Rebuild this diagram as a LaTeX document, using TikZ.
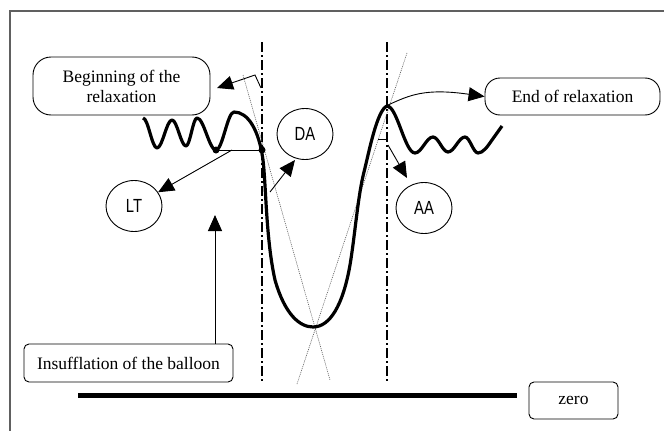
\documentclass[tikz,border=0pt]{standalone}
\usepackage{fontspec}
\setmainfont{Liberation Serif}
\newfontfamily\narrowsans[FakeStretch=0.78]{Liberation Sans}
\usetikzlibrary{arrows.meta,shapes.geometric}
\begin{document}
\begin{tikzpicture}[x=1pt,y=-1pt,
  box/.style={draw, line width=0.9pt, align=center, inner sep=0pt,
    font=\fontsize{17.5}{20}\selectfont},
  oval/.style={draw, ellipse, line width=0.9pt, inner sep=0pt,
    minimum width=56pt, minimum height=51pt, font=\narrowsans\fontsize{19}{21}\selectfont},
  arr/.style={line width=0.9pt, -{Triangle[length=16pt,width=14pt]}},
  thin/.style={line width=0.9pt},
  curve/.style={line width=3.2pt, line join=round},
  guide/.style={line width=2pt, dash pattern=on 10pt off 3pt on 2pt off 3pt},
  dotline/.style={line width=0.6pt, gray!70!black, dash pattern=on 1pt off 1pt},
  dotmark/.style={circle, fill=black, inner sep=0pt, minimum size=7pt}]
\useasboundingbox (0,0) rectangle (664,431);
% frame
\draw[line width=2pt, gray!75!black] (10,431) -- (10,11) -- (664,11);
% boxes
\node[box, rounded corners=18pt, minimum width=177pt, minimum height=58pt] (begin) at (121.5,86) {Beginning of the\\relaxation};
\node[box, rounded corners=15pt, minimum width=175pt, minimum height=37pt] (endr) at (572.5,96.5) {End of relaxation};
\node[box, rounded corners=5pt, minimum width=209pt, minimum height=38pt] (insuf) at (128.5,363) {Insufflation of the balloon};
\node[box, rounded corners=5pt, minimum width=89pt, minimum height=37pt] (zero) at (573.5,400.5) {zero};
% ovals
\node[oval] (lt) at (134,206) {LT};
\node[oval] (da) at (305,134) {DA};
\node[oval] (aa) at (424,208) {AA};
% guide lines
\coordinate (g1t) at (262,42); \coordinate (g1b) at (262,382);
\coordinate (g2t) at (387,42); \coordinate (g2b) at (387,382);
\draw[guide] (g1t) -- (g1b);
\draw[guide] (g2t) -- (g2b);
% dotted tangents
\coordinate (t1a) at (243,75); \coordinate (t1b) at (330,380);
\coordinate (t2a) at (407,53); \coordinate (t2b) at (297,384);
\draw[dotline] (t1a) -- (t1b);
\draw[dotline] (t2a) -- (t2b);
% zero line
\coordinate (z1) at (78,395); \coordinate (z2) at (517,395);
\draw[line width=5pt] (z1) -- (z2);
% main curve
\draw[curve] (143,118) cos (150,133) sin (157,148) cos (164.5,134) sin (172,120)
  cos (179,133) sin (186,146) cos (191.5,132) sin (197,118) cos (206.5,134) sin (216,150)
  cos (225,131) sin (234,112)
  .. controls (248,112) and (259,130) .. (263,160)
  .. controls (266,185) and (266,240) .. (275,280)
  .. controls (285,315) and (300,327) .. (313,327)
  .. controls (330,327) and (343,305) .. (350,265)
  .. controls (355,235) and (358,195) .. (364,172)
  .. controls (369,152) and (377,110) .. (387,106)
  cos (401,129.5) sin (415,153) cos (424,145) sin (433,137)
  cos (440.5,144.5) sin (448,152) cos (456.5,144.5) sin (465,137)
  cos (471.5,145) sin (478,153) cos (492,140) -- (502,126);
% dots and horizontal
\node[dotmark] (d1) at (216,150) {};
\node[dotmark] (d2) at (262,150) {};
\draw[thin] (d1.center) -- (d2.center);
\coordinate (tk1) at (378,139); \coordinate (tk2) at (387,139);
\draw[thin] (tk1) -- (tk2);
% arrows
\coordinate (bs) at (261,88); \coordinate (bc) at (255,75); \coordinate (be) at (217,88);
\draw[arr] (bs) -- (bc) -- (be);
\coordinate (es) at (388,105);
\draw[arr] (es) .. controls (410,95) and (425,88) .. (endr.west);
\coordinate (as) at (388,145); \coordinate (ae) at (407,178);
\draw[arr] (as) -- (ae);
\coordinate (ds) at (270,192); \coordinate (de) at (295,160);
\draw[arr] (ds) -- (de);
\coordinate (ls) at (232,150);
\draw[arr] (ls) -- (lt);
\coordinate (it) at (215,215);
\draw[arr] (insuf.north -| it) -- (it);
\end{tikzpicture}
\end{document}
